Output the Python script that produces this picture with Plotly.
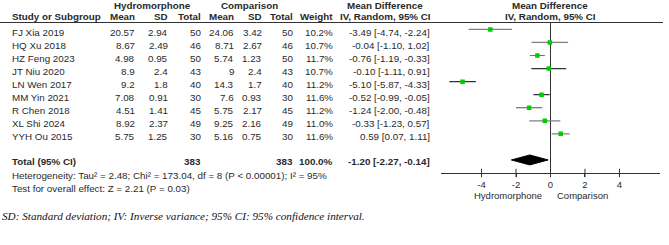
import plotly.graph_objects as go

studies = ["FJ Xia 2019", "HQ Xu 2018", "HZ Feng 2023", "JT Niu 2020", "LN Wen 2017",
           "MM Yin 2021", "R Chen 2018", "XL Shi 2024", "YYH Ou 2015"]
h_mean = ["20.57", "8.67", "4.98", "8.9", "9.2", "7.08", "4.51", "8.92", "5.75"]
h_sd = ["2.94", "2.49", "0.95", "2.4", "1.8", "0.91", "1.41", "2.37", "1.25"]
h_total = [50, 46, 50, 43, 40, 30, 45, 49, 30]
c_mean = ["24.06", "8.71", "5.74", "9", "14.3", "7.6", "5.75", "9.25", "5.16"]
c_sd = ["3.42", "2.67", "1.23", "2.4", "1.7", "0.93", "2.17", "2.16", "0.75"]
c_total = [50, 46, 50, 43, 40, 30, 45, 49, 30]
weight = ["10.2%", "10.7%", "11.7%", "10.7%", "11.2%", "11.6%", "11.2%", "11.0%", "11.6%"]
md = [-3.49, -0.04, -0.76, -0.10, -5.10, -0.52, -1.24, -0.33, 0.59]
lo = [-4.74, -1.10, -1.19, -1.11, -5.87, -0.99, -2.00, -1.23, 0.07]
hi = [-2.24, 1.02, -0.33, 0.91, -4.33, -0.05, -0.48, 0.57, 1.11]
total_n = [383, 383]
total_md, total_lo, total_hi = -1.20, -2.27, -0.14
ticks = [-4, -2, 0, 2, 4]
tick_text = ["-4", "-2", "0", "2", "4"]

W, H = 669, 245
ci_colors = ["#808080", "#808080", "#707070", "#333333", "#333333", "#333333", "#555555", "#808080", "#808080"]
TXT = "#2a2a2a"
FONT = "Liberation Sans"
FS = 9.8
AXROW = 11


def px(x):
    return x / W


def py(y):
    return 1 - y / H


fig = go.Figure()

# CI lines and point estimates
for i in range(len(studies)):
    fig.add_trace(go.Scatter(x=[lo[i], hi[i]], y=[i, i], mode="lines",
                             line=dict(color=ci_colors[i], width=1.2),
                             hoverinfo="skip", showlegend=False))
fig.add_trace(go.Scatter(x=md, y=list(range(len(studies))), mode="markers",
                         marker=dict(symbol="square", size=4.5, color="#00cc00",
                                     line=dict(width=0)),
                         showlegend=False))
# Diamond for total
trow = 10
dh = 0.38
fig.add_trace(go.Scatter(x=[total_lo, total_md, total_hi, total_md, total_lo],
                         y=[trow, trow - dh, trow, trow + dh, trow],
                         mode="lines", fill="toself", fillcolor="black",
                         line=dict(color="black", width=1), showlegend=False))
# Tick marks crossing the axis line
fig.add_trace(go.Scatter(x=ticks, y=[AXROW] * len(ticks), mode="markers", cliponaxis=False,
                         marker=dict(symbol="line-ns", size=6, line=dict(color="#333", width=1)),
                         hoverinfo="skip", showlegend=False))

annos = []


def txt(x, y, s, anchor="right", bold=False, yref="y", size=FS, color=TXT, font=FONT, italic=False):
    if bold:
        s = "<b>" + s + "</b>"
    if italic:
        s = "<i>" + s + "</i>"
    annos.append(dict(x=x, y=y, xref="paper", yref=yref, text=s, showarrow=False,
                      xanchor=anchor, yanchor="middle",
                      font=dict(family=font, size=size, color=color)))


# Headers
hy1, hy2 = py(5), py(16.5)
txt(px(152), hy1, "Hydromorphone", "center", True, "paper")
txt(px(249), hy1, "Comparison", "center", True, "paper")
txt(px(385), hy1, "Mean Difference", "center", True, "paper")
txt(px(550), hy1, "Mean Difference", "center", True, "paper")
txt(px(10), hy2, "Study or Subgroup", "left", True, "paper")
for xx, s in [(137, "Mean"), (170, "SD"), (203, "Total"), (236, "Mean"), (264, "SD"),
              (295, "Total"), (335, "Weight")]:
    txt(px(xx), hy2, s, "right", True, "paper")
txt(px(385), hy2, "IV, Random, 95% CI", "center", True, "paper")
txt(px(550), hy2, "IV, Random, 95% CI", "center", True, "paper")

# Study rows
for i, s in enumerate(studies):
    yy = i + 0.2
    txt(px(10), yy, s, "left")
    txt(px(137), yy, h_mean[i])
    txt(px(170), yy, h_sd[i])
    txt(px(203), yy, str(h_total[i]))
    txt(px(236), yy, c_mean[i])
    txt(px(264), yy, c_sd[i])
    txt(px(295), yy, str(c_total[i]))
    txt(px(335), yy, weight[i])
    txt(px(432), yy, f"{md[i]:.2f} [{lo[i]:.2f}, {hi[i]:.2f}]")

# Total row
ty = trow + 0.15
txt(px(10), ty, "Total (95% CI)", "left", True)
txt(px(203), ty, str(total_n[0]), "right", True)
txt(px(295), ty, str(total_n[1]), "right", True)
txt(px(335), ty, "100.0%", "right", True)
txt(px(432), ty, f"{total_md:.2f} [{total_lo:.2f}, {total_hi:.2f}]", "right", True)

txt(px(10), py(175.5), "Heterogeneity: Tau² = 2.48; Chi² = 173.04, df = 8 (P < 0.00001); I² = 95%", "left", yref="paper")
txt(px(10), py(188.5), "Test for overall effect: Z = 2.21 (P = 0.03)", "left", yref="paper")

txt(px(508), py(195.5), "Hydromorphone", "center", yref="paper", size=9.5)
txt(px(582), py(195.5), "Comparison", "center", yref="paper", size=9.5)

txt(px(0), py(216), "SD: Standard deviation; IV: Inverse variance; 95% CI: 95% confidence interval.",
    "left", yref="paper", size=11.2, color="#111111", font="Liberation Serif", italic=True)

shapes = [dict(type="line", xref="paper", yref="paper", x0=0, x1=px(663), y0=py(22.5), y1=py(22.5),
               line=dict(color="#333333", width=1))]

fig.update_layout(
    width=W, height=H, margin=dict(l=0, r=0, t=0, b=0),
    paper_bgcolor="white", plot_bgcolor="white",
    annotations=annos, shapes=shapes, showlegend=False,
    xaxis=dict(domain=[px(441), px(660)], range=[-6.35, 6.35], tickvals=ticks, ticktext=tick_text,
               ticks="outside", ticklen=3, tickcolor="#333", showline=True, linecolor="#333",
               linewidth=1, zeroline=True, zerolinecolor="#333", zerolinewidth=1,
               showgrid=False, tickfont=dict(family=FONT, size=9.5, color=TXT), fixedrange=True),
    yaxis=dict(domain=[py(173), py(22.5)], range=[AXROW, -0.53], visible=False,
               showgrid=False, zeroline=False, fixedrange=True),
)

fig.write_html("out.html")
